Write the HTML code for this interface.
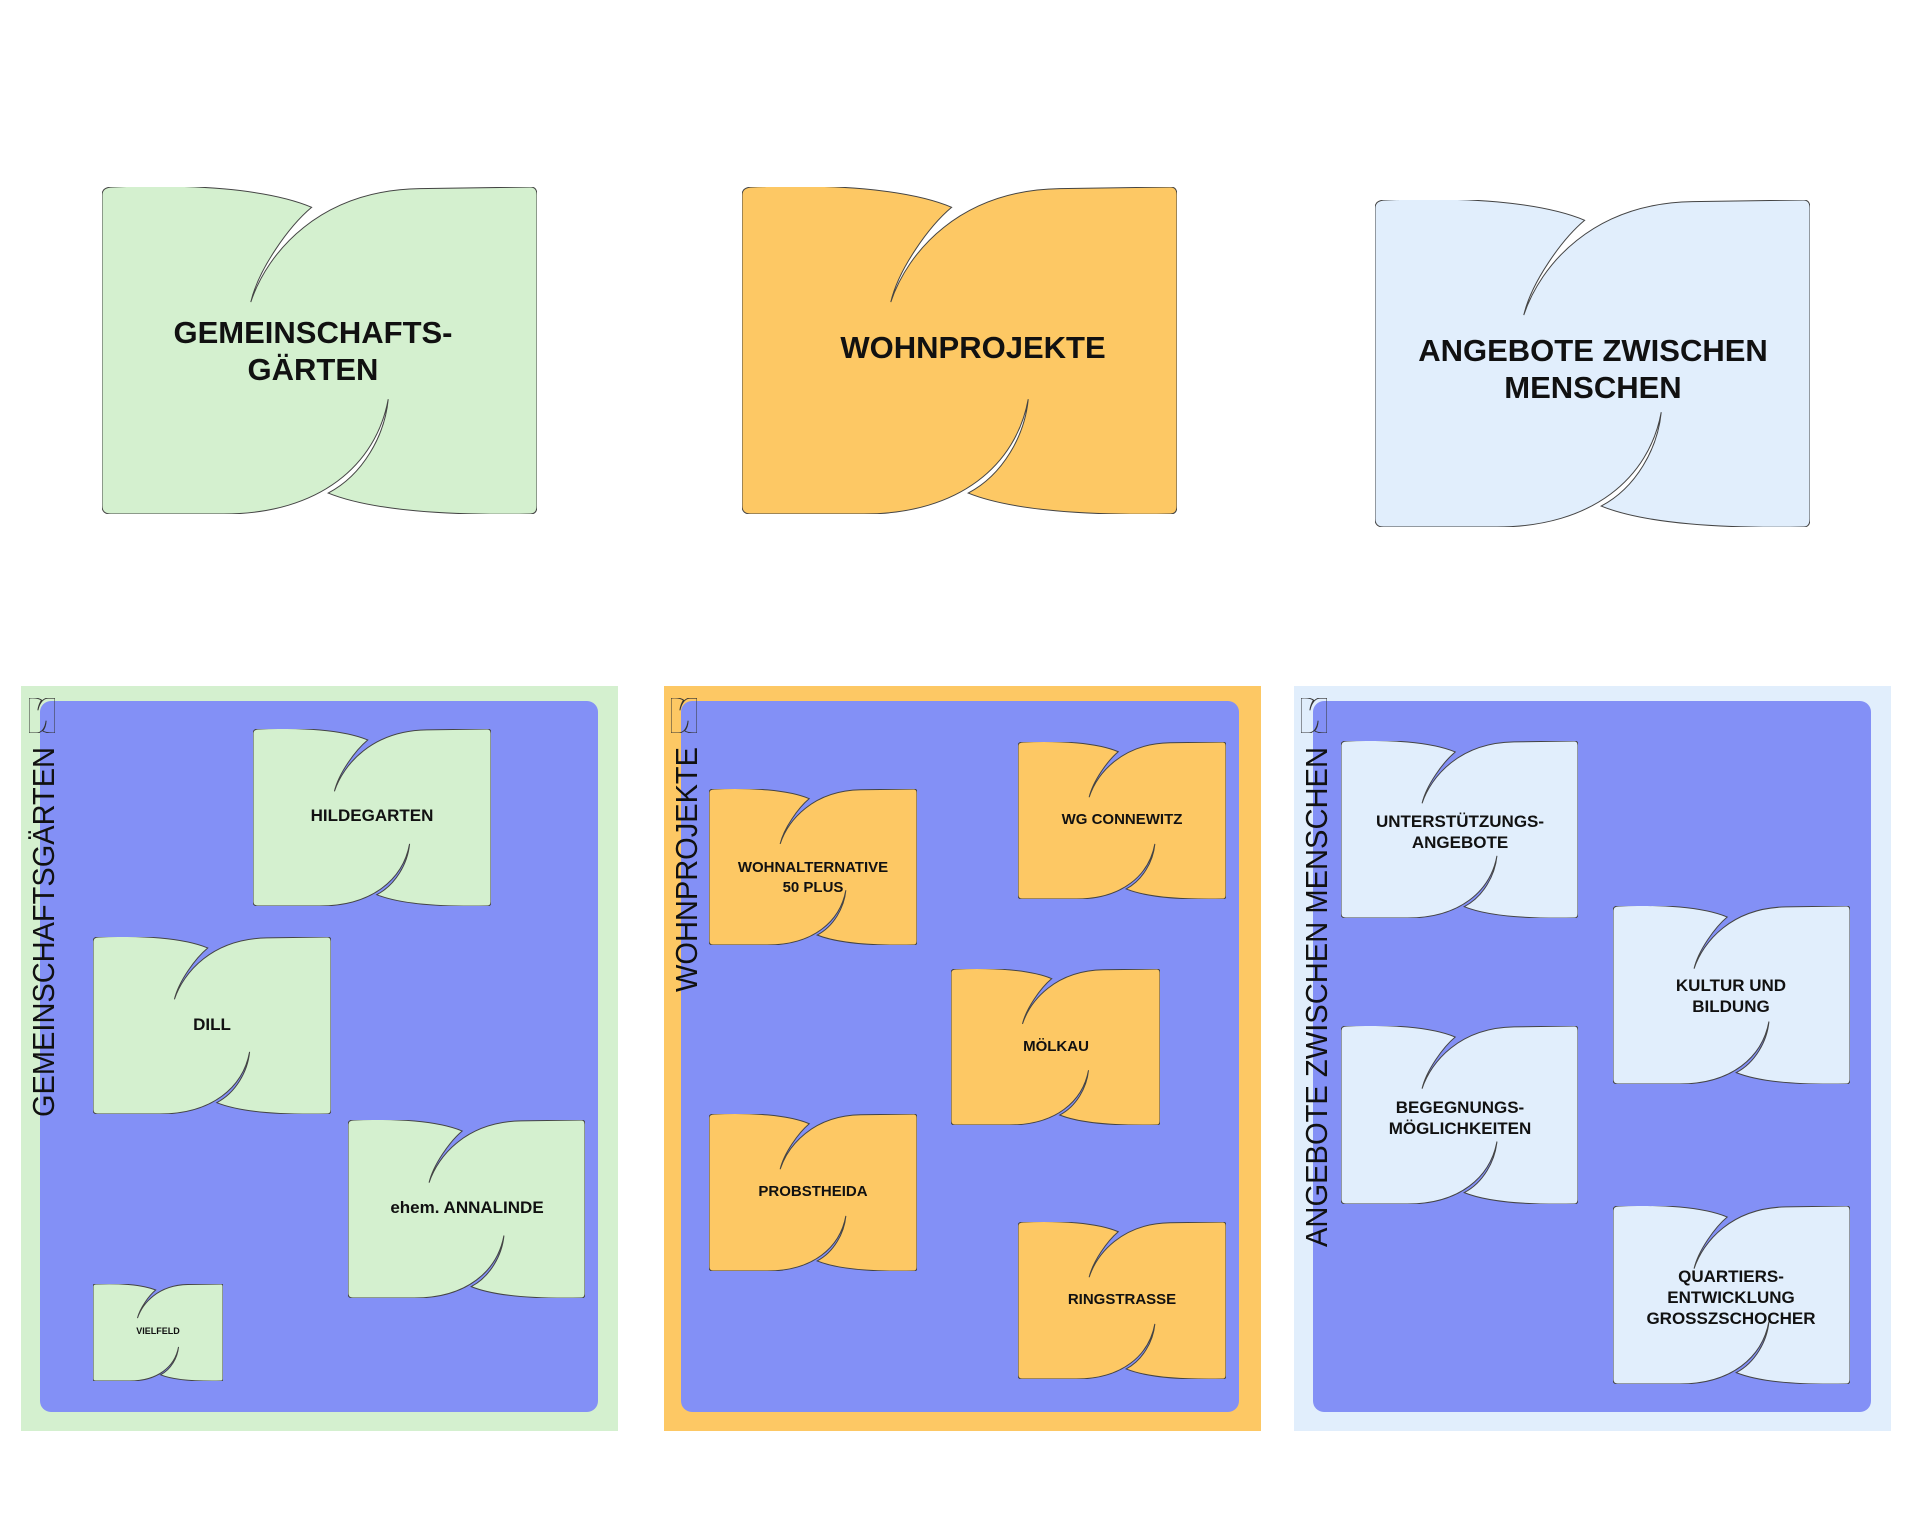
<!DOCTYPE html>
<html><head><meta charset="utf-8"><style>
html,body{margin:0;padding:0;background:#fff}
svg{display:block}
text{font-family:"Liberation Sans",Arial,sans-serif}
.b{font-weight:bold;fill:#111;text-anchor:middle}
</style></head><body>
<svg width="1920" height="1537" viewBox="0 0 1920 1537" xmlns="http://www.w3.org/2000/svg">
<defs>
<symbol id="leaf" viewBox="0 0 1 1" preserveAspectRatio="none">
<path vector-effect="non-scaling-stroke" d="M0,0.025 Q0,0 0.025,0 C0.2,-0.01 0.38,0.005 0.482,0.062 C0.43,0.12 0.36,0.25 0.342,0.352 C0.38,0.2 0.5,0.01 0.73,0.005 L0.985,0 Q1,0 1,0.025 L1,0.975 Q1,1 0.985,1 C0.8,1.005 0.62,0.99 0.52,0.936 C0.6,0.88 0.65,0.76 0.658,0.649 C0.63,0.85 0.5,1.0 0.28,1.0 L0.02,1 Q0,1 0,0.975 Z"/>
</symbol>
</defs>
<g stroke="#444" stroke-width="1">
<svg x="102" y="187" width="435" height="327" viewBox="0 0 1 1" preserveAspectRatio="none" fill="#d4f0cf"><use href="#leaf"/></svg>
<svg x="742" y="187" width="435" height="327" viewBox="0 0 1 1" preserveAspectRatio="none" fill="#fdc864"><use href="#leaf"/></svg>
<svg x="1375" y="200" width="435" height="327" viewBox="0 0 1 1" preserveAspectRatio="none" fill="#e1eefc"><use href="#leaf"/></svg>
</g>
<g font-size="31">
<text class="b" x="313" y="343">GEMEINSCHAFTS-</text>
<text class="b" x="313" y="380">GÄRTEN</text>
<text class="b" x="973" y="358">WOHNPROJEKTE</text>
<text class="b" x="1593" y="361">ANGEBOTE ZWISCHEN</text>
<text class="b" x="1593" y="398">MENSCHEN</text>
</g>
<rect x="21" y="686" width="597" height="745" fill="#d4f0cf"/>
<rect x="40" y="701" width="558" height="711" rx="11" fill="#8390f6"/>
<rect x="664" y="686" width="597" height="745" fill="#fdc864"/>
<rect x="681" y="701" width="558" height="711" rx="11" fill="#8390f6"/>
<rect x="1294" y="686" width="597" height="745" fill="#e1eefc"/>
<rect x="1313" y="701" width="558" height="711" rx="11" fill="#8390f6"/>
<g stroke="#333" stroke-width="1" fill="none">
<svg x="29" y="698" width="26" height="35" viewBox="0 0 1 1" preserveAspectRatio="none"><use href="#leaf"/></svg>
<svg x="671" y="698" width="26" height="35" viewBox="0 0 1 1" preserveAspectRatio="none"><use href="#leaf"/></svg>
<svg x="1301" y="698" width="26" height="35" viewBox="0 0 1 1" preserveAspectRatio="none"><use href="#leaf"/></svg>
</g>
<g font-size="31" fill="#111">
<text transform="translate(54,1117) rotate(-90)" textLength="370" lengthAdjust="spacingAndGlyphs">GEMEINSCHAFTSGÄRTEN</text>
<text transform="translate(697,992) rotate(-90)" textLength="245" lengthAdjust="spacingAndGlyphs">WOHNPROJEKTE</text>
<text transform="translate(1327,1247) rotate(-90)" textLength="500" lengthAdjust="spacingAndGlyphs">ANGEBOTE ZWISCHEN MENSCHEN</text>
</g>
<g stroke="#444" stroke-width="1">
<svg x="253" y="729" width="238" height="177" viewBox="0 0 1 1" preserveAspectRatio="none" fill="#d4f0cf"><use href="#leaf"/></svg>
<svg x="93" y="937" width="238" height="177" viewBox="0 0 1 1" preserveAspectRatio="none" fill="#d4f0cf"><use href="#leaf"/></svg>
<svg x="348" y="1120" width="237" height="178" viewBox="0 0 1 1" preserveAspectRatio="none" fill="#d4f0cf"><use href="#leaf"/></svg>
<svg x="93" y="1284" width="130" height="97" viewBox="0 0 1 1" preserveAspectRatio="none" fill="#d4f0cf"><use href="#leaf"/></svg>
<svg x="709" y="789" width="208" height="156" viewBox="0 0 1 1" preserveAspectRatio="none" fill="#fdc864"><use href="#leaf"/></svg>
<svg x="1018" y="742" width="208" height="157" viewBox="0 0 1 1" preserveAspectRatio="none" fill="#fdc864"><use href="#leaf"/></svg>
<svg x="951" y="969" width="209" height="156" viewBox="0 0 1 1" preserveAspectRatio="none" fill="#fdc864"><use href="#leaf"/></svg>
<svg x="709" y="1114" width="208" height="157" viewBox="0 0 1 1" preserveAspectRatio="none" fill="#fdc864"><use href="#leaf"/></svg>
<svg x="1018" y="1222" width="208" height="157" viewBox="0 0 1 1" preserveAspectRatio="none" fill="#fdc864"><use href="#leaf"/></svg>
<svg x="1341" y="741" width="237" height="177" viewBox="0 0 1 1" preserveAspectRatio="none" fill="#e1eefc"><use href="#leaf"/></svg>
<svg x="1613" y="906" width="237" height="178" viewBox="0 0 1 1" preserveAspectRatio="none" fill="#e1eefc"><use href="#leaf"/></svg>
<svg x="1341" y="1026" width="237" height="178" viewBox="0 0 1 1" preserveAspectRatio="none" fill="#e1eefc"><use href="#leaf"/></svg>
<svg x="1613" y="1206" width="237" height="178" viewBox="0 0 1 1" preserveAspectRatio="none" fill="#e1eefc"><use href="#leaf"/></svg>
</g>
<g font-size="17">
<text class="b" x="372" y="821">HILDEGARTEN</text>
<text class="b" x="212" y="1030">DILL</text>
<text class="b" x="467" y="1213">ehem. ANNALINDE</text>
<text class="b" x="158" y="1334" font-size="9">VIELFELD</text>
<text class="b" x="813" y="872" font-size="15">WOHNALTERNATIVE</text>
<text class="b" x="813" y="892" font-size="15">50 PLUS</text>
<text class="b" x="1122" y="824" font-size="15">WG CONNEWITZ</text>
<text class="b" x="1056" y="1051" font-size="15">MÖLKAU</text>
<text class="b" x="813" y="1196" font-size="15">PROBSTHEIDA</text>
<text class="b" x="1122" y="1304" font-size="15">RINGSTRASSE</text>
<text class="b" x="1460" y="827">UNTERSTÜTZUNGS-</text>
<text class="b" x="1460" y="848">ANGEBOTE</text>
<text class="b" x="1731" y="991">KULTUR UND</text>
<text class="b" x="1731" y="1012">BILDUNG</text>
<text class="b" x="1460" y="1113">BEGEGNUNGS-</text>
<text class="b" x="1460" y="1134">MÖGLICHKEITEN</text>
<text class="b" x="1731" y="1282">QUARTIERS-</text>
<text class="b" x="1731" y="1303">ENTWICKLUNG</text>
<text class="b" x="1731" y="1324">GROSSZSCHOCHER</text>
</g>
</svg>
</body></html>
